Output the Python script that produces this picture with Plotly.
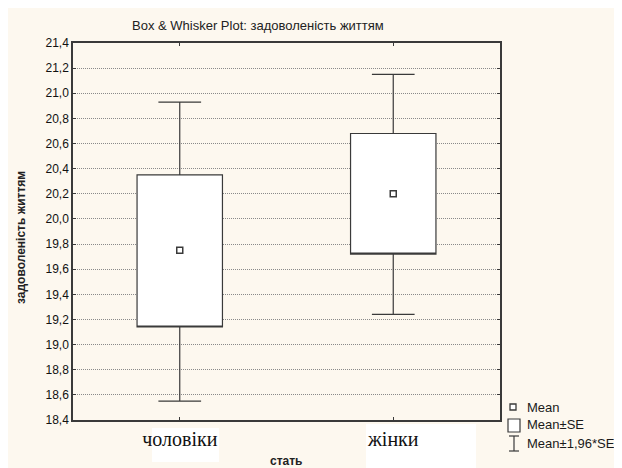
import plotly.graph_objects as go

categories = ["чоловіки", "жінки"]
means = [19.75, 20.20]
se_low = [19.14, 19.72]
se_high = [20.35, 20.68]
ci_low = [18.55, 19.24]
ci_high = [20.93, 21.15]
y_ticks = [18.4, 18.6, 18.8, 19.0, 19.2, 19.4, 19.6, 19.8, 20.0, 20.2, 20.4, 20.6, 20.8, 21.0, 21.2, 21.4]
legend_labels = ["Mean", "Mean±SE", "Mean±1,96*SE"]

OFF = 8  # page body margin
W, H = 622 - OFF, 468 - OFF
L, R, T, B = 73, 500, 43, 420  # plot area in page pixels
PW, PH = R - L, B - T


def px(x):
    return (x - L) / PW


def py(y):
    return (B - y) / PH


DARK = "#3a3a3a"
CREAM = "#fdf8ef"

fig = go.Figure()
fig.add_trace(go.Box(
    x=categories, q1=se_low, median=se_low, q3=se_high,
    lowerfence=ci_low, upperfence=ci_high,
    width=0.4, whiskerwidth=0.5, fillcolor="white",
    line=dict(color=DARK, width=1.2), boxpoints=False,
    showlegend=False, hoverinfo="skip"))
fig.add_trace(go.Scatter(
    x=categories, y=means, mode="markers",
    marker=dict(symbol="square-open", size=6, color=DARK, line=dict(width=1.5, color=DARK)),
    showlegend=False, hoverinfo="skip"))

shapes = [
    dict(type="rect", xref="paper", yref="paper", x0=px(0), x1=px(622), y0=py(470), y1=py(0),
         fillcolor=CREAM, line=dict(width=0), layer="below"),
    dict(type="rect", xref="paper", yref="paper", x0=px(152), x1=px(219), y0=py(462), y1=py(428),
         fillcolor="white", line=dict(width=0), layer="below"),
    dict(type="rect", xref="paper", yref="paper", x0=px(366), x1=px(476), y0=py(470), y1=py(424),
         fillcolor="white", line=dict(width=0), layer="below"),
    # legend symbols
    dict(type="rect", xref="paper", yref="paper", x0=px(510), x1=px(516), y0=py(410), y1=py(404),
         fillcolor="white", line=dict(width=1.3, color=DARK)),
    dict(type="rect", xref="paper", yref="paper", x0=px(508), x1=px(520), y0=py(432), y1=py(419),
         fillcolor="white", line=dict(width=1.2, color=DARK)),
    dict(type="line", xref="paper", yref="paper", x0=px(514), x1=px(514), y0=py(451), y1=py(436),
         line=dict(width=1.2, color=DARK)),
    dict(type="line", xref="paper", yref="paper", x0=px(509), x1=px(519), y0=py(436), y1=py(436),
         line=dict(width=1.2, color=DARK)),
    dict(type="line", xref="paper", yref="paper", x0=px(509), x1=px(519), y0=py(451), y1=py(451),
         line=dict(width=1.2, color=DARK)),
]

annotations = [
    dict(text="Box & Whisker Plot: задоволеність життям", xref="paper", yref="paper",
         x=px(258), y=py(26), showarrow=False, xanchor="center", yanchor="middle",
         font=dict(family="Liberation Sans", size=13, color="#222")),
    dict(text="<b>задоволеність життям</b>", xref="paper", yref="paper", textangle=-90,
         x=px(21), y=py(238), showarrow=False, xanchor="center", yanchor="middle",
         font=dict(family="Liberation Sans", size=12, color="#222")),
    dict(text="<b>стать</b>", xref="paper", yref="paper",
         x=px(286), y=py(461), showarrow=False, xanchor="center", yanchor="middle",
         font=dict(family="Liberation Sans", size=12, color="#222")),
]
for lbl, yy in zip(legend_labels, [407, 425, 443]):
    annotations.append(dict(text=lbl, xref="paper", yref="paper", x=px(525), y=py(yy),
                            showarrow=False, xanchor="left", yanchor="middle",
                            font=dict(family="Liberation Sans", size=13, color="#1a1a1a")))

fig.update_layout(
    width=W, height=H, margin=dict(l=L - OFF, r=622 - R, t=T - OFF, b=468 - B, pad=0),
    paper_bgcolor="white", plot_bgcolor="white", separators=", ",
    shapes=shapes, annotations=annotations, showlegend=False,
    xaxis=dict(type="category", range=[-0.5, 1.5], showgrid=False, zeroline=False,
               showline=True, linecolor=DARK, linewidth=1.5, mirror="ticks",
               ticks="inside", ticklen=3, tickcolor=DARK,
               tickfont=dict(family="Liberation Serif", size=20, color="#111")),
    yaxis=dict(range=[18.4, 21.4], tickvals=y_ticks, tickformat=".1f",
               showgrid=True, gridcolor="#8a8a8a", griddash="1px,1px", gridwidth=1,
               zeroline=False, showline=True, linecolor=DARK, linewidth=1.5, mirror="ticks",
               ticks="inside", ticklen=3, tickcolor=DARK,
               tickfont=dict(family="Liberation Sans", size=12, color="#111")),
)

fig.write_html("out.html")
